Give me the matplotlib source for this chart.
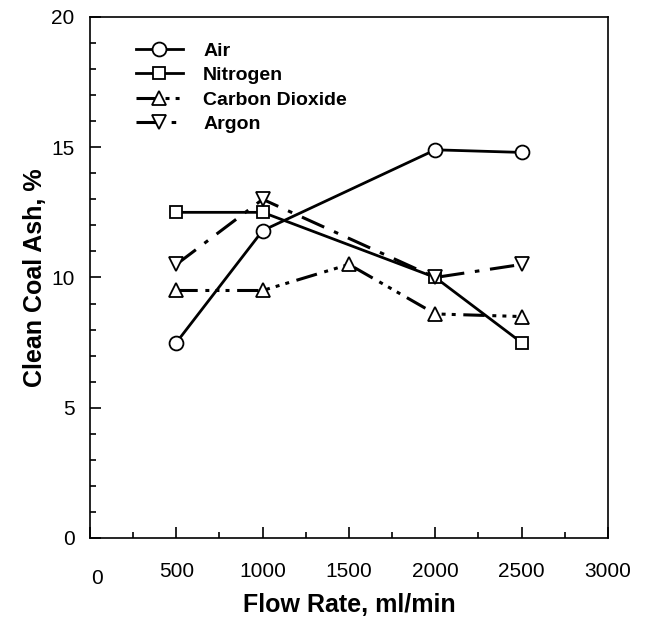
import matplotlib.pyplot as plt
from matplotlib.ticker import MultipleLocator, FuncFormatter

# data
flow_air = [500, 1000, 2000, 2500]
ash_air = [7.5, 11.8, 14.9, 14.8]

flow_n2 = [500, 1000, 2000, 2500]
ash_n2 = [12.5, 12.5, 10.0, 7.5]

flow_co2 = [500, 1000, 1500, 2000, 2500]
ash_co2 = [9.5, 9.5, 10.5, 8.6, 8.5]

flow_ar = [500, 1000, 2000, 2500]
ash_ar = [10.5, 13.0, 10.0, 10.5]

plt.rcParams['font.family'] = ['Liberation Sans', 'DejaVu Sans']

fig = plt.figure(figsize=(6.49, 6.21), dpi=100)
ax = fig.add_axes([0.1387, 0.1337, 0.798, 0.839])

mk = dict(markerfacecolor='white', markeredgecolor='black', markeredgewidth=1.3)
ax.plot(flow_air, ash_air, '-', color='black', lw=2, marker='o', ms=10, label='Air', **mk)
ax.plot(flow_n2, ash_n2, '-', color='black', lw=2, marker='s', ms=9, label='Nitrogen', **mk)
ax.plot(flow_co2, ash_co2, color='black', lw=2.2, dashes=(7, 2.5, 1.3, 2, 1.3, 2, 1.3, 2.5),
        marker='^', ms=10, label='Carbon Dioxide', **mk)
ax.plot(flow_ar, ash_ar, color='black', lw=2.2, dashes=(8, 3.5, 1.5, 3.5),
        marker='v', ms=10, label='Argon', **mk)

ax.set_xlim(0, 3000)
ax.set_ylim(0, 20)
ax.xaxis.set_major_locator(MultipleLocator(500))
ax.xaxis.set_minor_locator(MultipleLocator(250))
ax.yaxis.set_major_locator(MultipleLocator(5))
ax.yaxis.set_minor_locator(MultipleLocator(1))
# the x "0" is drawn separately, a bit lower and to the right as in the original
ax.xaxis.set_major_formatter(FuncFormatter(lambda v, p: '' if v == 0 else '%d' % v))
ax.annotate('0', xy=(0, 0), xycoords='data', xytext=(5, -22.5), textcoords='offset points',
            ha='center', va='top', fontsize=15, annotation_clip=False)
ax.tick_params(which='both', direction='in', top=False, right=False, width=1.2)
ax.tick_params(which='major', length=8)
ax.tick_params(which='minor', length=4)
ax.tick_params(axis='y', labelsize=15, pad=11)
ax.tick_params(axis='x', labelsize=15, pad=17)
for s in ax.spines.values():
    s.set_linewidth(1.2)

ax.set_xlabel('Flow Rate, ml/min', fontsize=18, fontweight='bold', labelpad=9)
ax.set_ylabel('Clean Coal Ash, %', fontsize=18, fontweight='bold', labelpad=3)

leg = ax.legend(loc='upper left', bbox_to_anchor=(0.055, 0.985), frameon=False,
                prop={'weight': 'bold', 'size': 14}, handlelength=2.4,
                handletextpad=1.05, labelspacing=0.35)

fig.savefig('out.png', dpi=100)
